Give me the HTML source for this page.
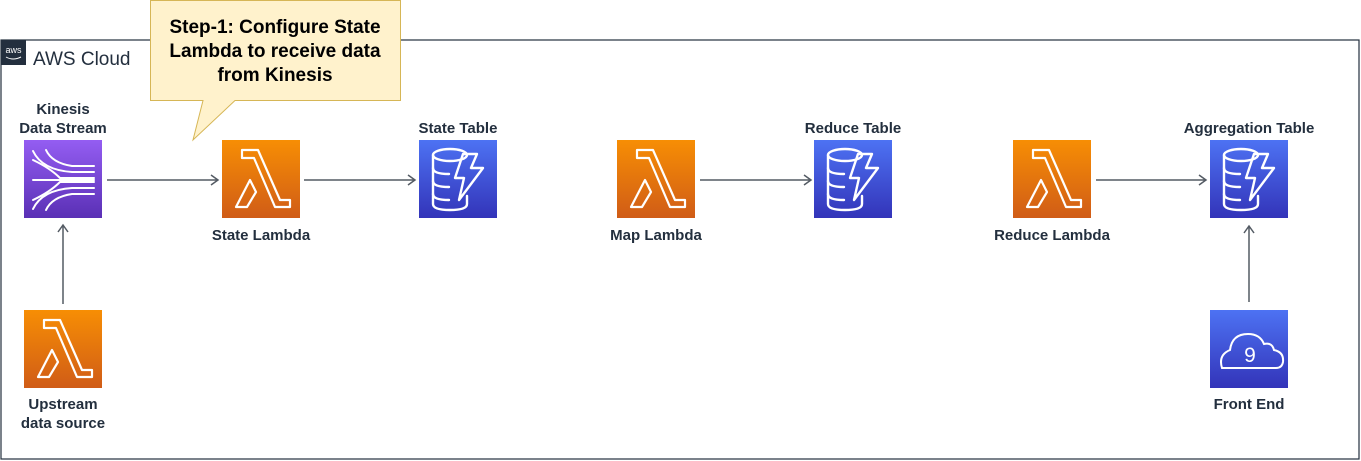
<!DOCTYPE html>
<html><head><meta charset="utf-8"><style>
html,body{margin:0;padding:0;background:#fff;width:1361px;height:461px;overflow:hidden}
text{font-family:"Liberation Sans",Arial,sans-serif}
.lbl{font-size:15px;font-weight:bold;fill:#232F3E;text-anchor:middle}
</style></head><body>
<svg width="1361" height="461" viewBox="0 0 1361 461" xmlns="http://www.w3.org/2000/svg">
<defs>
<linearGradient id="og" x1="0" y1="0" x2="0" y2="1"><stop offset="0" stop-color="#F78E04"/><stop offset="1" stop-color="#D05C17"/></linearGradient>
<linearGradient id="bg" x1="0" y1="0" x2="0" y2="1"><stop offset="0" stop-color="#4D72F3"/><stop offset="1" stop-color="#3334B9"/></linearGradient>
<linearGradient id="pg" x1="0" y1="0" x2="0" y2="1"><stop offset="0" stop-color="#945DF2"/><stop offset="1" stop-color="#5A30B5"/></linearGradient>
<g id="lam">
<rect width="78" height="78" fill="url(#og)"/>
<path d="M14 67 L28 40 L34 52 L25 67 Z M20 10 L36 10 L58 60 L68 60 L68 67 L53 67 L32 18 L20 18 Z" fill="none" stroke="#fff" stroke-width="2.2" stroke-linejoin="round"/>
</g>
<g id="ddb">
<rect width="78" height="78" fill="url(#bg)"/>
<g fill="none" stroke="#fff" stroke-width="2.4" stroke-linecap="round">
<ellipse cx="31" cy="15" rx="17" ry="6"/>
<path d="M14 15 V64 Q14 70 31 70 Q48 70 48 64 V56"/>
<path d="M14 28 Q14 34 30 34 M14 41 Q14 47 30 47 M14 54 Q14 60 30 60"/>
<path d="M44 14 L58 14 L52 28 L64 28 L40 60 L45 38 L36 38 Z" stroke-linejoin="round"/>
</g>
</g>
</defs>
<rect x="1" y="40" width="1358" height="419" fill="none" stroke="#232F3E" stroke-width="1.2"/>
<rect x="1" y="40" width="25" height="25" fill="#232F3E"/>
<text x="13.5" y="53" font-size="9" fill="#fff" text-anchor="middle">aws</text>
<path d="M6 57 Q13 61 21 57" stroke="#fff" stroke-width="1" fill="none"/>
<text x="33" y="65" font-size="19" fill="#232F3E">AWS Cloud</text>

<g stroke="#545B64" stroke-width="1.5" fill="none">
<path d="M107 180 H218 M211 175 L218 180 L211 185"/>
<path d="M304 180 H415 M408 175 L415 180 L408 185"/>
<path d="M700 180 H811 M804 175 L811 180 L804 185"/>
<path d="M1096 180 H1206 M1199 175 L1206 180 L1199 185"/>
<path d="M63 304 V225 M58 232 L63 225 L68 232"/>
<path d="M1249 302 V226 M1244 233 L1249 226 L1254 233"/>
</g>

<rect x="24" y="140" width="78" height="78" fill="url(#pg)"/>
<g fill="none" stroke="#fff" stroke-width="2" stroke-linecap="round">
<path d="M33 151 Q42 170 72 172 H94"/>
<path d="M46 150 Q52 163 72 166 H94"/>
<path d="M33 160 Q50 168 60 178 H94"/>
<path d="M33 180 H94"/>
<path d="M33 200 Q50 192 60 182 H94"/>
<path d="M33 209 Q42 190 72 188 H94"/>
<path d="M46 210 Q52 197 72 194 H94"/>
</g>

<use href="#lam" x="222" y="140"/>
<use href="#ddb" x="419" y="140"/>
<use href="#lam" x="617" y="140"/>
<use href="#ddb" x="814" y="140"/>
<use href="#lam" x="1013" y="140"/>
<use href="#ddb" x="1210" y="140"/>
<use href="#lam" x="24" y="310"/>

<rect x="1210" y="310" width="78" height="78" fill="url(#bg)"/>
<path d="M1222 368 Q1218 355 1230 350 Q1232 334 1248 334 Q1260 334 1264 344 Q1272 342 1274 350 Q1284 352 1283 362 Q1282 368 1276 368 Z" fill="none" stroke="#fff" stroke-width="2"/>
<text x="1250" y="362" font-size="21" fill="#fff" text-anchor="middle">9</text>

<text class="lbl" x="63" y="114">Kinesis</text>
<text class="lbl" x="63" y="133">Data Stream</text>
<text class="lbl" x="261" y="240">State Lambda</text>
<text class="lbl" x="458" y="133">State Table</text>
<text class="lbl" x="656" y="240">Map Lambda</text>
<text class="lbl" x="853" y="133">Reduce Table</text>
<text class="lbl" x="1052" y="240">Reduce Lambda</text>
<text class="lbl" x="1249" y="133">Aggregation Table</text>
<text class="lbl" x="63" y="409">Upstream</text>
<text class="lbl" x="63" y="428">data source</text>
<text class="lbl" x="1249" y="409">Front End</text>

<path d="M150.5 0.5 H400.5 V100.5 H235 L193 140 L203 100.5 H150.5 Z" fill="#FFF2CC" stroke="#D6B656" stroke-width="1"/>
<g font-size="19" font-weight="bold" fill="#000" text-anchor="middle">
<text x="275" y="33">Step-1: Configure State</text>
<text x="275" y="57">Lambda to receive data</text>
<text x="275" y="81">from Kinesis</text>
</g>
</svg>
</body></html>
